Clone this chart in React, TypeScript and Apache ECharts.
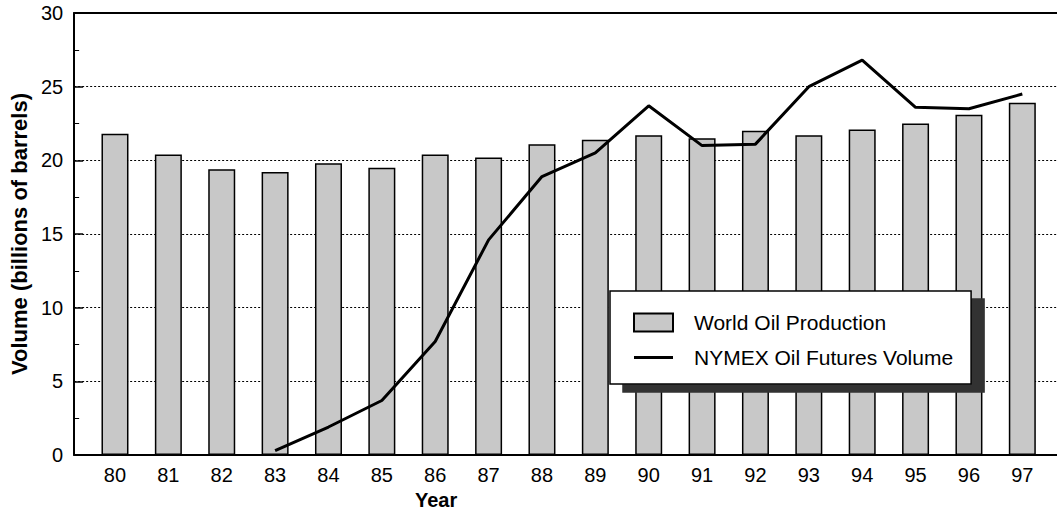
import React, { useEffect, useRef } from "react";
import * as echarts from "echarts";

const years = ["80", "81", "82", "83", "84", "85", "86", "87", "88", "89", "90", "91", "92", "93", "94", "95", "96", "97"];
const worldOilProduction = [21.8, 20.4, 19.4, 19.2, 19.8, 19.5, 20.4, 20.2, 21.1, 21.4, 21.7, 21.5, 22.0, 21.7, 22.1, 22.5, 23.1, 23.9];
const nymexFuturesVolume = [null, null, null, 0.3, 1.9, 3.7, 7.7, 14.6, 18.9, 20.5, 23.7, 21.0, 21.1, 25.0, 26.8, 23.6, 23.5, 24.5];
const yMin = 0;
const yMax = 30;
const yStep = 5;

const FONT = "'Liberation Sans', Arial, sans-serif";

export default function App() {
  const ref = useRef<HTMLDivElement>(null);
  useEffect(() => {
    if (!ref.current) return;
    const chart = echarts.init(ref.current, undefined, { renderer: "svg" });
    chart.setOption({
      animation: false,
      backgroundColor: "#ffffff",
      textStyle: { fontFamily: FONT, color: "#000" },
      grid: [
        { left: 73, right: 0, top: 13, bottom: 59, containLabel: false },
        { left: 88.3, right: 8, top: 13, bottom: 59, containLabel: false },
      ],
      xAxis: [
        {
          gridIndex: 0, type: "value", min: 0, max: 1, position: "bottom",
          axisLine: { show: true, lineStyle: { color: "#000", width: 2 } },
          axisTick: { show: false }, axisLabel: { show: false }, splitLine: { show: false },
        },
        {
          gridIndex: 0, type: "value", min: 0, max: 1, position: "top",
          axisLine: { show: true, lineStyle: { color: "#000", width: 2 } },
          axisTick: { show: false }, axisLabel: { show: false }, splitLine: { show: false },
        },
        {
          gridIndex: 1, type: "category", data: years, boundaryGap: true,
          axisLine: { show: false }, axisTick: { show: false },
          axisLabel: { show: true, margin: 10, fontSize: 20, color: "#000", fontFamily: FONT },
        },
      ],
      yAxis: [
        {
          gridIndex: 0, type: "value", min: yMin, max: yMax, interval: yStep,
          axisLine: { show: true, lineStyle: { color: "#000", width: 2 } },
          axisTick: { show: true, inside: true, length: 9, lineStyle: { color: "#000", width: 1.5 } },
          minorTick: { show: true, splitNumber: 2, length: 5, lineStyle: { color: "#000", width: 1 } },
          axisLabel: { fontSize: 20, color: "#000", margin: 11, fontFamily: FONT },
          splitLine: { show: true, lineStyle: { color: "#000", width: 1, type: [2, 2] } },
          name: "Volume (billions of barrels)",
          nameLocation: "middle",
          nameGap: 41,
          nameTextStyle: { fontSize: 22, fontWeight: "bold", color: "#000", fontFamily: FONT },
        },
        {
          gridIndex: 1, type: "value", min: yMin, max: yMax,
          show: false, splitLine: { show: false },
        },
      ],
      legend: {
        left: 610, top: 291, orient: "vertical",
        padding: [21, 18, 16, 23],
        itemWidth: 39, itemHeight: 18, itemGap: 14,
        backgroundColor: "#fff",
        borderColor: "#000", borderWidth: 1.5,
        shadowColor: "#333", shadowBlur: 0, shadowOffsetX: 13, shadowOffsetY: 8,
        textStyle: { fontSize: 21, color: "#000", fontFamily: FONT, padding: [0, 0, 0, 16], lineHeight: 20 },
        data: [
          { name: "World Oil Production", icon: "rect" },
          { name: "NYMEX Oil Futures Volume", icon: "path://M0,0 L39,0 L39,3 L0,3 Z" },
        ],
        z: 10,
      },
      graphic: [
        {
          type: "text", left: 415, top: 490, z: 10,
          style: { text: "Year", fontSize: 20, fontWeight: "bold", fill: "#000", fontFamily: FONT },
        },
      ],
      series: [
        {
          name: "World Oil Production", type: "bar", xAxisIndex: 2, yAxisIndex: 1,
          data: worldOilProduction, barWidth: 27,
          itemStyle: { color: "#c8c8c8", borderColor: "#000", borderWidth: 1.5 },
        },
        {
          name: "NYMEX Oil Futures Volume", type: "line", xAxisIndex: 2, yAxisIndex: 1,
          data: nymexFuturesVolume, showSymbol: false, symbol: "none",
          lineStyle: { color: "#000", width: 3 }, itemStyle: { color: "#000" },
          z: 12,
        },
      ],
    });
    return () => chart.dispose();
  }, []);
  return <div ref={ref} style={{ position: "fixed", left: 0, top: 0, width: 1057, height: 514 }} />;
}
